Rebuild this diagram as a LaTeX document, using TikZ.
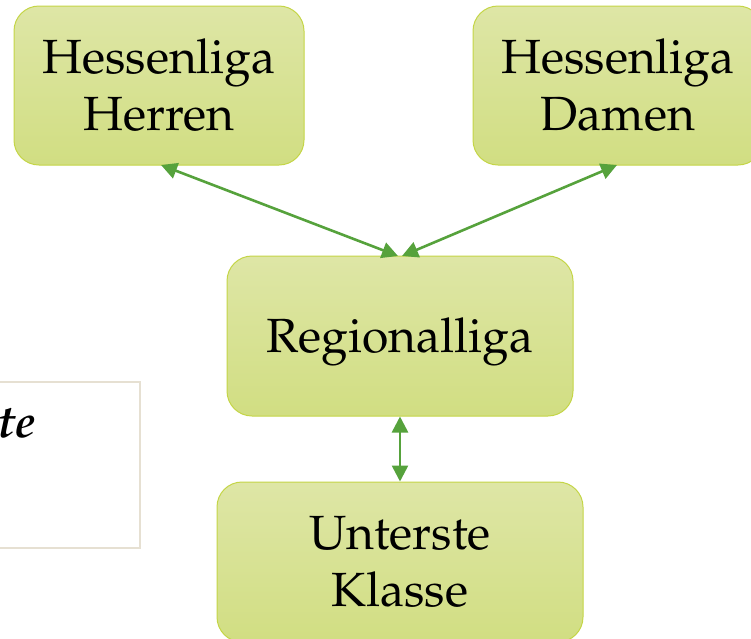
\documentclass[tikz,border=0pt]{standalone}
\usepackage[T1]{fontenc}
\usepackage{mathpazo}
\usetikzlibrary{arrows.meta}
\definecolor{boxtop}{RGB}{222,230,166}
\definecolor{boxbot}{RGB}{209,222,130}
\definecolor{boxline}{RGB}{196,213,70}
\definecolor{arrowgreen}{RGB}{86,162,60}
\definecolor{beige}{RGB}{230,224,210}
\tikzset{
  levelbox/.style={rounded corners=25pt, draw=boxline, line width=1pt,
    top color=boxtop, bottom color=boxbot, align=center, inner sep=0pt,
    font=\fontsize{48}{57}\selectfont},
  link/.style={draw=arrowgreen, line width=2.6pt,
    {Triangle[length=16pt,width=16pt]}-{Triangle[length=16pt,width=16pt]}}
}
\begin{document}
\begin{tikzpicture}[x=1pt,y=-1pt]
\useasboundingbox (0,0) rectangle (751,638);
\clip (0,0) rectangle (751,638);
\node[levelbox, minimum width=290pt, minimum height=159pt] (herren) at (159,85.5) {Hessenliga\\Herren};
\node[levelbox, minimum width=290pt, minimum height=159pt] (damen) at (618,85.5) {Hessenliga\\Damen};
\node[levelbox, minimum width=346pt, minimum height=160pt] (regio) at (400,336) {\raisebox{-6pt}[\height][\depth]{Regionalliga}};
\node[levelbox, minimum width=366pt, minimum height=160pt] (unten) at (400,562) {Unterste\\Klasse};
\node[draw=beige, line width=1.2pt, minimum width=150pt, minimum height=166pt, inner sep=0pt] (legend) at (65,465) {};
\node[anchor=base east, inner sep=0pt, font=\fontsize{46}{50}\selectfont\bfseries\itshape] (legtext) at (36,437) {te};
\coordinate (hb) at (161,165);
\coordinate (db) at (617,165);
\coordinate (rl) at (398,256);
\coordinate (rr) at (402,256);
\draw[link] (hb) -- (rl);
\draw[link] (db) -- (rr);
\draw[link] (regio.south) -- (unten.north);
\end{tikzpicture}
\end{document}
